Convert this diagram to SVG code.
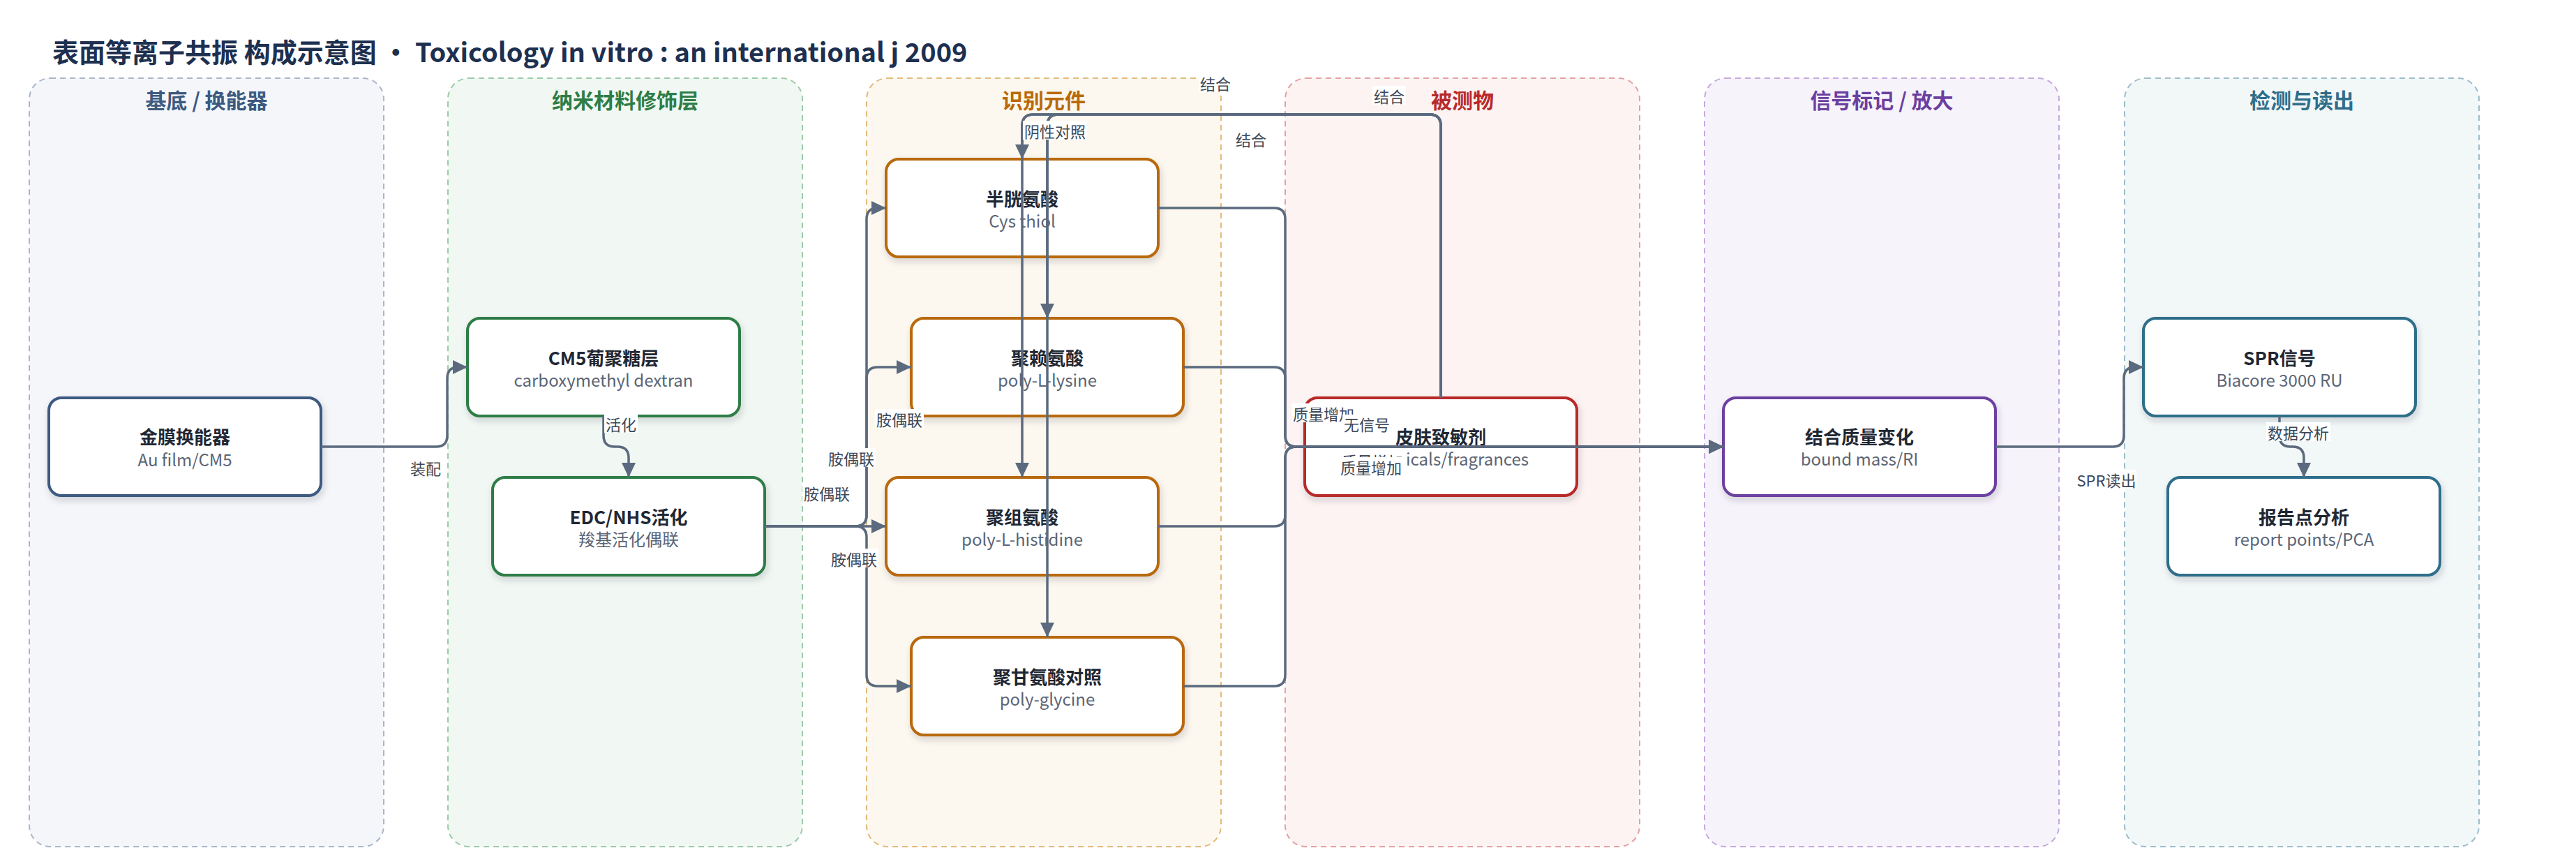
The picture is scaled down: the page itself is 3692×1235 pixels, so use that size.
<svg xmlns="http://www.w3.org/2000/svg" width="3692" height="1235" viewBox="0 0 3692 1235">
<defs>
<style>
text { font-family: "Noto Sans CJK SC", "Noto Sans", "Liberation Sans", sans-serif; }
.title { font-size: 38px; font-weight: 700; fill: #1d3050; }
.lane { stroke-width: 2; stroke-dasharray: 8 6; }
.lt { font-size: 30px; font-weight: 700; text-anchor: middle; }
.box { fill: #ffffff; stroke-width: 4; filter: url(#sh); }
.nt { font-size: 26px; font-weight: 700; fill: #1f2733; text-anchor: middle; }
.ns { font-size: 24px; fill: #5b6575; text-anchor: middle; }
.edge { fill: none; stroke: #5b6a7e; stroke-width: 3.5; marker-end: url(#ar); }
.lbl { font-size: 22px; fill: #3d4756; text-anchor: middle; }
.lb { fill: #ffffff; }
</style>
<filter id="sh" x="-10%" y="-10%" width="130%" height="150%">
<feDropShadow dx="2" dy="5" stdDeviation="5" flood-color="#1e293b" flood-opacity="0.18"/>
</filter>
<marker id="ar" markerUnits="userSpaceOnUse" markerWidth="22" markerHeight="20" refX="21" refY="10" orient="auto">
<path d="M0,0 L21,10 L0,20 Z" fill="#5b6a7e"/>
</marker>
</defs>
<rect x="0" y="0" width="3692" height="1235" fill="#ffffff"/>
<text class="title" x="75" y="89">表面等离子共振 构成示意图 · Toxicology in vitro : an international j 2009</text>

<g id="lanes">
<g id="lane-substrate"><rect class="lane" x="42" y="112" width="508" height="1101" rx="30" fill="#f4f6fa" stroke="#a9b6c9"/><text class="lt" x="296" y="155" fill="#3d5a80">基底 / 换能器</text></g>
<g id="lane-nano"><rect class="lane" x="642" y="112" width="508" height="1101" rx="30" fill="#f1f8f3" stroke="#9ccaa9"/><text class="lt" x="896" y="155" fill="#2e7d46">纳米材料修饰层</text></g>
<g id="lane-recog"><rect class="lane" x="1242" y="112" width="508" height="1101" rx="30" fill="#fdf8ef" stroke="#e2bb7c"/><text class="lt" x="1496" y="155" fill="#b8690a">识别元件</text></g>
<g id="lane-analyte"><rect class="lane" x="1842" y="112" width="508" height="1101" rx="30" fill="#fdf3f3" stroke="#e3a1a1"/><text class="lt" x="2096" y="155" fill="#b8292a">被测物</text></g>
<g id="lane-signal"><rect class="lane" x="2443" y="112" width="508" height="1101" rx="30" fill="#f7f3fb" stroke="#c6a9df"/><text class="lt" x="2697" y="155" fill="#6b3fa0">信号标记 / 放大</text></g>
<g id="lane-detect"><rect class="lane" x="3045" y="112" width="508" height="1101" rx="30" fill="#f2f7f8" stroke="#9dbdcc"/><text class="lt" x="3299" y="155" fill="#2f6e8a">检测与读出</text></g>
</g>

<g id="nodes">
<g id="n-gold"><rect class="box" x="70" y="570" width="390" height="140" rx="18" stroke="#3d5a80"/><text class="nt" x="265" y="636">金膜换能器</text><text class="ns" x="265" y="668">Au film/CM5</text></g>
<g id="n-cm5"><rect class="box" x="670" y="456" width="390" height="140" rx="18" stroke="#2e7d46"/><text class="nt" x="865" y="523">CM5葡聚糖层</text><text class="ns" x="865" y="554">carboxymethyl dextran</text></g>
<g id="n-edc"><rect class="box" x="706" y="684" width="390" height="140" rx="18" stroke="#2e7d46"/><text class="nt" x="901" y="751">EDC/NHS活化</text><text class="ns" x="901" y="782">羧基活化偶联</text></g>
<g id="n-cys"><rect class="box" x="1270" y="228" width="390" height="140" rx="18" stroke="#b8690a"/><text class="nt" x="1465" y="295">半胱氨酸</text><text class="ns" x="1465" y="326">Cys thiol</text></g>
<g id="n-lys"><rect class="box" x="1306" y="456" width="390" height="140" rx="18" stroke="#b8690a"/><text class="nt" x="1501" y="523">聚赖氨酸</text><text class="ns" x="1501" y="554">poly-L-lysine</text></g>
<g id="n-his"><rect class="box" x="1270" y="684" width="390" height="140" rx="18" stroke="#b8690a"/><text class="nt" x="1465" y="751">聚组氨酸</text><text class="ns" x="1465" y="782">poly-L-histidine</text></g>
<g id="n-gly"><rect class="box" x="1306" y="913" width="390" height="140" rx="18" stroke="#b8690a"/><text class="nt" x="1501" y="980">聚甘氨酸对照</text><text class="ns" x="1501" y="1011">poly-glycine</text></g>
<g id="n-sens"><rect class="box" x="1870" y="570" width="390" height="140" rx="18" stroke="#b8292a"/><text class="nt" x="2065" y="636">皮肤致敏剂</text><text class="ns" x="2015" y="667" style="text-anchor:start">icals/fragrances</text></g>
<g id="n-mass"><rect class="box" x="2470" y="570" width="390" height="140" rx="18" stroke="#6b3fa0"/><text class="nt" x="2665" y="636">结合质量变化</text><text class="ns" x="2665" y="667">bound mass/RI</text></g>
<g id="n-spr"><rect class="box" x="3072" y="456" width="390" height="140" rx="18" stroke="#2f6e8a"/><text class="nt" x="3267" y="523">SPR信号</text><text class="ns" x="3267" y="554">Biacore 3000 RU</text></g>
<g id="n-report"><rect class="box" x="3107" y="684" width="390" height="140" rx="18" stroke="#2f6e8a"/><text class="nt" x="3302" y="751">报告点分析</text><text class="ns" x="3302" y="782">report points/PCA</text></g>
</g>

<g id="connectors">
<path class="edge" d="M460,640 H625 Q641,640 641,624 V542 Q641,526 657,526 H670"/>
<path class="edge" d="M865,596 V624 Q865,640 881,640 H885 Q901,640 901,656 V684"/>
<path class="edge" d="M1096,754 H1226 Q1242,754 1242,738 V314 Q1242,298 1258,298 H1270"/>
<path class="edge" d="M1096,754 H1226 Q1242,754 1242,738 V542 Q1242,526 1258,526 H1306"/>
<path class="edge" d="M1096,754 H1270"/>
<path class="edge" d="M1096,754 H1226 Q1242,754 1242,770 V967 Q1242,983 1258,983 H1306"/>
<path class="edge" d="M1660,298 H1826 Q1842,298 1842,314 V624 Q1842,640 1858,640 H2470"/>
<path class="edge" d="M1696,526 H1826 Q1842,526 1842,542 V624 Q1842,640 1858,640 H2470"/>
<path class="edge" d="M1660,754 H1826 Q1842,754 1842,738 V656 Q1842,640 1858,640 H2470"/>
<path class="edge" d="M1696,983 H1826 Q1842,983 1842,967 V656 Q1842,640 1858,640 H2470"/>
<path class="edge" d="M2065,570 V180 Q2065,164 2049,164 H1481 Q1465,164 1465,180 V228"/>
<path class="edge" d="M2065,570 V180 Q2065,164 2049,164 H1517 Q1501,164 1501,180 V456"/>
<path class="edge" d="M2065,570 V180 Q2065,164 2049,164 H1481 Q1465,164 1465,180 V684"/>
<path class="edge" d="M2065,570 V180 Q2065,164 2049,164 H1517 Q1501,164 1501,180 V913"/>
<path class="edge" d="M2860,640 H3028 Q3044,640 3044,624 V542 Q3044,526 3060,526 H3072"/>
<path class="edge" d="M3267,596 V624 Q3267,640 3283,640 H3286 Q3302,640 3302,656 V684"/>
</g>

<g id="labels">
<rect class="lb" x="586" y="656" width="48" height="27"/><text class="lbl" x="610" y="680">装配</text>
<rect class="lb" x="866" y="593" width="48" height="27"/><text class="lbl" x="890" y="617">活化</text>
<rect class="lb" x="1254" y="586" width="70" height="27"/><text class="lbl" x="1289" y="610">胺偶联</text>
<rect class="lb" x="1185" y="642" width="70" height="27"/><text class="lbl" x="1220" y="666">胺偶联</text>
<rect class="lb" x="1150" y="692" width="70" height="27"/><text class="lbl" x="1185" y="716">胺偶联</text>
<rect class="lb" x="1189" y="786" width="70" height="27"/><text class="lbl" x="1224" y="810">胺偶联</text>
<rect class="lb" x="1718" y="105" width="48" height="27"/><text class="lbl" x="1742" y="129">结合</text>
<rect class="lb" x="1769" y="185" width="48" height="27"/><text class="lbl" x="1793" y="209">结合</text>
<rect class="lb" x="1967" y="123" width="48" height="27"/><text class="lbl" x="1991" y="147">结合</text>
<rect class="lb" x="1466" y="173" width="92" height="27"/><text class="lbl" x="1512" y="197">阴性对照</text>
<rect class="lb" x="1851" y="578" width="92" height="27"/><text class="lbl" x="1897" y="602">质量增加</text>
<rect class="lb" x="1924" y="594" width="70" height="27"/><text class="lbl" x="1959" y="617">无信号</text>
<rect class="lb" x="1921" y="646" width="92" height="27"/><text class="lbl" x="1967" y="670">质量增加</text>
<rect class="lb" x="1919" y="655" width="92" height="27"/><text class="lbl" x="1965" y="679">质量增加</text>
<rect class="lb" x="2976" y="673" width="86" height="27"/><text class="lbl" x="3019" y="697">SPR读出</text>
<rect class="lb" x="3248" y="605" width="92" height="27"/><text class="lbl" x="3294" y="629">数据分析</text>
</g>
</svg>
